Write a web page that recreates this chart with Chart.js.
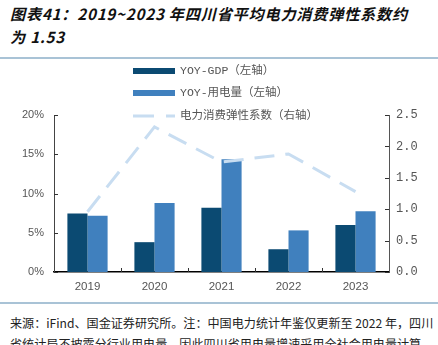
<!DOCTYPE html>
<html>
<head>
<meta charset="utf-8">
<script src="https://cdn.jsdelivr.net/npm/chart.js@4.4.0/dist/chart.umd.min.js"></script>
<style>
  html, body { margin: 0; padding: 0; background: #fff; width: 438px; height: 345px; overflow: hidden; }
  #title { position: absolute; left: 10px; top: 2px; width: 428px; font-family: "Noto Sans CJK SC", sans-serif; font-style: italic; font-weight: bold; font-size: 15.2px; line-height: 23px; color: #111; letter-spacing: 0.75px; white-space: nowrap; }
  #sep1 { position: absolute; left: 0; top: 57px; width: 438px; height: 2px; background: #a9c3d6; }
  #sep2 { position: absolute; left: 0; top: 302px; width: 438px; height: 2px; background: #a9c3d6; }
  #wrap { position: absolute; left: 0; top: 60px; width: 438px; height: 240px; }
  #foot { position: absolute; left: 10px; top: 312px; width: 430px; font-family: "Noto Sans CJK SC", sans-serif; font-size: 12.1px; line-height: 21px; color: #222; white-space: nowrap; letter-spacing: 0px; }
</style>
</head>
<body>
<div id="title">图表41：2019~2023 年四川省平均电力消费弹性系数约<br>为 1.53</div>
<div id="sep1"></div>
<div id="wrap"><canvas id="c" width="438" height="240"></canvas></div>
<div id="sep2"></div>
<div id="foot">来源：iFind、国金证券研究所。注：中国电力统计年鉴仅更新至 2022 年，四川<br>省统计局不披露分行业用电量，因此四川省用电量增速采用全社会用电量计算</div>
<script>
const categories = ["2019", "2020", "2021", "2022", "2023"];
const gdpGrowth = [7.45, 3.8, 8.2, 2.9, 6.0];
const powerGrowth = [7.15, 8.8, 14.35, 5.3, 7.75];
const elasticity = [0.96, 2.31, 1.75, 1.88, 1.28];
const seriesNames = ["YOY-GDP（左轴）", "YOY-用电量（左轴）", "电力消费弹性系数（右轴）"];
const leftTicks = [0, 5, 10, 15, 20];
const rightTicks = [0, 0.5, 1.0, 1.5, 2.0, 2.5];

const cGdp = "#0b4a72", cPow = "#4080be", cLine = "#c8ddf1";

const tickPlugin = {
  id: "inTicks",
  afterDatasetsDraw(chart) {
    const ctx = chart.ctx, a = chart.chartArea;
    const y = chart.scales.y, y1 = chart.scales.y1, x = chart.scales.x;
    ctx.save();
    ctx.lineWidth = 1;
    ctx.strokeStyle = "#333";
    ctx.beginPath();
    leftTicks.forEach(v => { const p = Math.round(y.getPixelForValue(v)) + 0.5; ctx.moveTo(a.left, p); ctx.lineTo(a.left + 4, p); });
    rightTicks.forEach(v => { const p = Math.round(y1.getPixelForValue(v)) + 0.5; ctx.moveTo(a.right, p); ctx.lineTo(a.right - 4, p); });
    for (let i = 1; i < categories.length; i++) {
      const p = Math.round((x.getPixelForValue(i - 1) + x.getPixelForValue(i)) / 2) + 0.5;
      ctx.moveTo(p, a.bottom); ctx.lineTo(p, a.bottom - 4);
    }
    ctx.stroke();
    ctx.restore();
  }
};

const legendPlugin = {
  id: "vLegend",
  afterDraw(chart) {
    const ctx = chart.ctx;
    const rows = [11, 33, 56];
    ctx.save();
    ctx.font = '11.5px "Liberation Mono", "Noto Sans CJK SC", monospace';
    ctx.textBaseline = "middle";
    chart.data.datasets.forEach((ds, i) => {
      const yy = rows[i];
      if (ds.type === "line") {
        ctx.strokeStyle = ds.borderColor;
        ctx.lineWidth = 3;
        ctx.setLineDash([21, 12]);
        ctx.beginPath(); ctx.moveTo(133, yy); ctx.lineTo(175, yy); ctx.stroke();
        ctx.setLineDash([]);
      } else {
        ctx.fillStyle = ds.backgroundColor;
        ctx.fillRect(133, yy - 3, 42, 6);
      }
      ctx.fillStyle = "#555";
      ctx.fillText(seriesNames[i], 180, yy);
    });
    ctx.restore();
  }
};

new Chart(document.getElementById("c"), {
  data: {
    labels: categories,
    datasets: [
      { type: "bar", label: seriesNames[0], data: gdpGrowth, backgroundColor: cGdp, yAxisID: "y", order: 2, barPercentage: 1.0, categoryPercentage: 0.6 },
      { type: "bar", label: seriesNames[1], data: powerGrowth, backgroundColor: cPow, yAxisID: "y", order: 2, barPercentage: 1.0, categoryPercentage: 0.6 },
      { type: "line", label: seriesNames[2], data: elasticity, borderColor: cLine, borderWidth: 3, borderDash: [20, 11], pointRadius: 0, fill: false, yAxisID: "y1", order: 1, tension: 0 }
    ]
  },
  options: {
    responsive: false,
    animation: false,
    layout: { padding: { top: 55, left: 0, right: 0, bottom: 0 } },
    plugins: { legend: { display: false }, tooltip: { enabled: false } },
    scales: {
      x: {
        grid: { display: false, drawTicks: false },
        border: { color: "#000", width: 1.5 },
        ticks: { color: "#555", font: { family: "Liberation Sans, Arial", size: 11.5 }, padding: 8 },
        afterFit(s) { s.height = 28; }
      },
      y: {
        position: "left", min: 0, max: 20,
        grid: { display: false, drawTicks: false },
        border: { color: "#444", width: 1 },
        ticks: { stepSize: 5, color: "#555", padding: 10, font: { family: "Liberation Sans, Arial", size: 11 }, callback: v => v + "%" },
        afterFit(s) { s.width = 54; }
      },
      y1: {
        position: "right", min: 0, max: 2.5,
        grid: { display: false, drawTicks: false },
        border: { color: "#555", width: 1 },
        ticks: { stepSize: 0.5, color: "#555", padding: 7, font: { family: "Liberation Mono, monospace", size: 12 }, callback: v => v.toFixed(1) },
        afterFit(s) { s.width = 49; }
      }
    }
  },
  plugins: [tickPlugin, legendPlugin]
});
</script>
</body>
</html>
